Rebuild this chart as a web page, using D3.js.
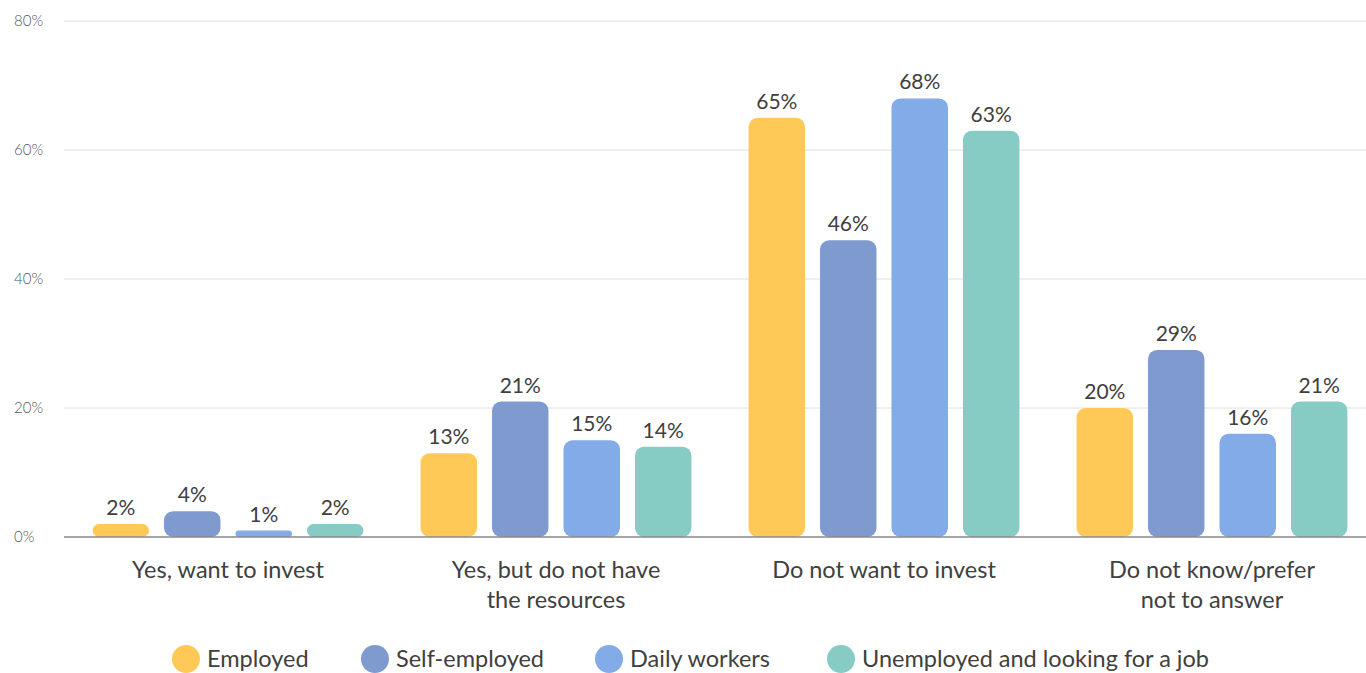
<!DOCTYPE html>
<html>
<head>
<meta charset="utf-8">
<script src="https://cdn.jsdelivr.net/npm/d3@7"></script>
<style>
  body { margin: 0; background: #fff; }
  svg { display: block; font-family: "Lato", "Open Sans", sans-serif; }
</style>
</head>
<body>
<div class="chart"></div>
<script>
var categories = [["Yes, want to invest"], ["Yes, but do not have", "the resources"], ["Do not want to invest"], ["Do not know/prefer", "not to answer"]];
var seriesNames = ["Employed", "Self-employed", "Daily workers", "Unemployed and looking for a job"];
var seriesColors = ["#ffc957", "#7f9acf", "#83abe8", "#86cbc4"];
var employed = [2, 13, 65, 20];
var selfEmployed = [4, 21, 46, 29];
var dailyWorkers = [1, 15, 68, 16];
var unemployed = [2, 14, 63, 21];
var yTicks = [0, 20, 40, 60, 80];

var values = [employed, selfEmployed, dailyWorkers, unemployed];

var width = 1366, height = 673;

var svg = d3.select('.chart')
    .append("svg")
    .attr("width", width)
    .attr("height", height);

var x0 = d3.scaleBand()
    .domain(d3.range(categories.length))
    .range([64, 1376]);

var x1 = d3.scaleBand()
    .domain(d3.range(seriesNames.length))
    .range([0, x0.bandwidth()])
    .paddingInner(0.21)
    .paddingOuter(0.4);

var y = d3.scaleLinear()
    .domain([0, 80])
    .range([537, 21]);

// gridlines
svg.append("g")
    .selectAll("line")
    .data(yTicks.slice(1))
    .enter().append("line")
    .attr("x1", 64)
    .attr("x2", width)
    .attr("y1", function (d) { return y(d); })
    .attr("y2", function (d) { return y(d); })
    .style("stroke", "#dedede")
    .style("stroke-width", 1);

// tick labels
svg.append("g")
    .selectAll("text")
    .data(yTicks)
    .enter().append("text")
    .attr("x", 14)
    .attr("y", function (d) { return y(d) + 5; })
    .text(function (d) { return d + "%"; })
    .style("font-size", "15px")
    .style("font-weight", 300)
    .style("fill", "#555");

var groups = svg.append("g")
    .selectAll("g")
    .data(categories)
    .enter().append("g")
    .attr("transform", function (d, i) { return "translate(" + x0(i) + ",0)"; });

groups.each(function (cat, ci) {
    var g = d3.select(this);
    var bars = values.map(function (s, si) { return { s: si, v: s[ci] }; });

    g.selectAll("rect")
        .data(bars)
        .enter().append("rect")
        .attr("x", function (d) { return x1(d.s); })
        .attr("width", x1.bandwidth())
        .attr("y", function (d) { return y(d.v); })
        .attr("height", function (d) { return y(0) - y(d.v); })
        .attr("rx", function (d) { return Math.min(9, (y(0) - y(d.v)) / 2); })
        .style("fill", function (d) { return seriesColors[d.s]; });

    g.selectAll("text.val")
        .data(bars)
        .enter().append("text")
        .attr("class", "val")
        .attr("x", function (d) { return x1(d.s) + x1.bandwidth() / 2; })
        .attr("y", function (d) { return y(d.v) - 9; })
        .attr("text-anchor", "middle")
        .text(function (d) { return d.v + "%"; })
        .style("font-size", "21px")
        .style("fill", "#404040");

    g.append("text")
        .attr("x", x0.bandwidth() / 2)
        .attr("y", 578)
        .attr("text-anchor", "middle")
        .style("font-size", "23.5px")
        .style("fill", "#404040")
        .selectAll("tspan")
        .data(cat)
        .enter().append("tspan")
        .attr("x", x0.bandwidth() / 2)
        .attr("dy", function (d, i) { return i ? 30 : 0; })
        .text(function (d) { return d; });
});

// zero axis
svg.append("line")
    .attr("x1", 64)
    .attr("x2", width)
    .attr("y1", y(0))
    .attr("y2", y(0))
    .style("stroke", "#888")
    .style("stroke-width", 1.5);

// legend
var legendX = [186, 375, 609, 841];
var legend = svg.append("g")
    .selectAll("g")
    .data(seriesNames)
    .enter().append("g")
    .attr("transform", function (d, i) { return "translate(" + legendX[i] + ",659)"; });

legend.append("circle")
    .attr("r", 14)
    .style("fill", function (d, i) { return seriesColors[i]; });

legend.append("text")
    .attr("x", 21)
    .attr("y", 8)
    .text(function (d) { return d; })
    .style("font-size", "23.5px")
    .style("fill", "#404040");
</script>
</body>
</html>
